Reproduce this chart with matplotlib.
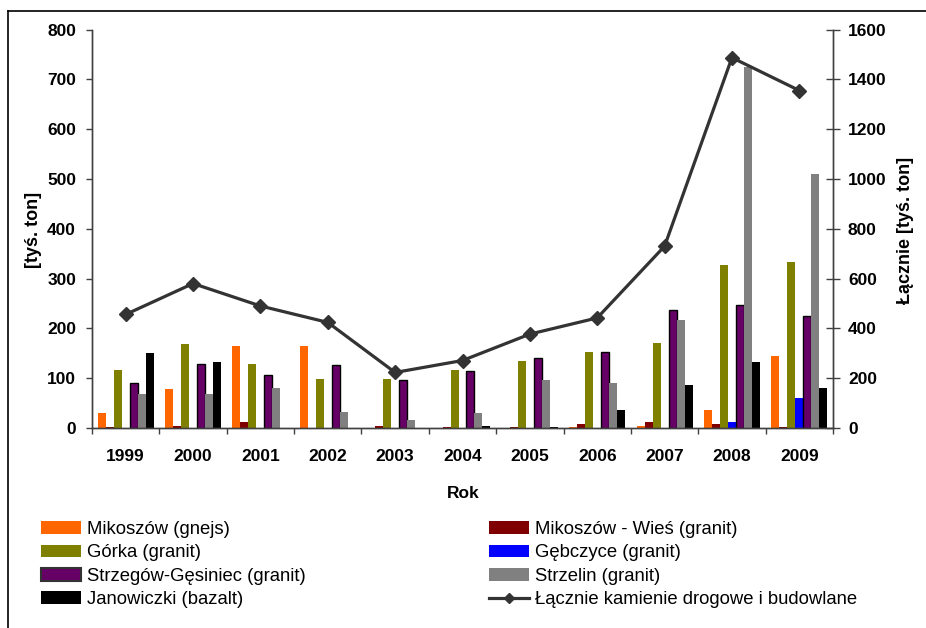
import matplotlib.pyplot as plt
import numpy as np
from matplotlib.lines import Line2D
from matplotlib.patches import Patch

plt.rcParams['font.family'] = ['Liberation Sans', 'DejaVu Sans']

years = ['1999', '2000', '2001', '2002', '2003', '2004', '2005', '2006', '2007', '2008', '2009']

mikoszow_gnejs = [30, 78, 164, 164, 0, 0, 0, 3, 5, 36, 144]
mikoszow_wies = [3, 5, 12, 0, 5, 3, 3, 9, 13, 9, 3]
gorka = [116, 168, 128, 98, 98, 116, 134, 152, 170, 327, 333]
gebczyce = [0, 0, 0, 0, 0, 0, 0, 0, 0, 12, 60]
strzegow = [90, 128, 107, 126, 96, 114, 140, 152, 236, 246, 224]
strzelin = [68, 68, 80, 32, 17, 30, 96, 90, 216, 725, 510]
janowiczki = [150, 132, 0, 0, 0, 5, 3, 36, 86, 132, 80]
lacznie = [456, 580, 490, 424, 223, 271, 377, 442, 730, 1487, 1355]

series = [
    ('Mikoszów (gnejs)', mikoszow_gnejs, '#FF6600'),
    ('Mikoszów - Wieś (granit)', mikoszow_wies, '#800000'),
    ('Górka (granit)', gorka, '#808000'),
    ('Gębczyce (granit)', gebczyce, '#0000FF'),
    ('Strzegów-Gęsiniec (granit)', strzegow, '#660066'),
    ('Strzelin (granit)', strzelin, '#808080'),
    ('Janowiczki (bazalt)', janowiczki, '#000000'),
]

fig = plt.figure(figsize=(9.26, 6.28), dpi=100)
ax = fig.add_axes([92/926, 1-428/628, (833-92)/926, (428-29.5)/628])
ax2 = ax.twinx()

x = np.arange(len(years))
w = 0.1185
handles = {}
for i, (name, vals, col) in enumerate(series):
    if name.startswith('Strzeg'):
        ax.bar(x + (i-3)*w, vals, w, color=col, edgecolor='black', linewidth=1.0)
        handles[name] = Patch(facecolor=col, edgecolor='#333333', linewidth=1.5)
    else:
        ax.bar(x + (i-3)*w, vals, w, color=col, linewidth=0)
        handles[name] = Patch(facecolor=col, linewidth=0)

ax2.plot(x, lacznie, color='#333333', lw=2.3, marker='D', markersize=7)
line_h = Line2D([], [], color='#333333', lw=2.3, marker='D', markersize=5)

ax.set_xlim(-0.5, 10.5)
ax.set_ylim(0, 800)
ax2.set_ylim(0, 1600)
ax.set_yticks(np.arange(0, 801, 100))
ax2.set_yticks(np.arange(0, 1601, 200))

ax.set_xticks(np.arange(-0.5, 11, 1))
ax.set_xticklabels([])
ax.set_xticks(x, minor=True)
ax.set_xticklabels(years, minor=True, fontweight='bold', fontsize=12.5)
ax.tick_params(axis='x', which='major', direction='out', length=4.5, width=1, color='#404040')
ax.tick_params(axis='x', which='minor', length=0, pad=15)
ax.tick_params(axis='y', direction='out', length=4.5, width=1, color='#404040', pad=7)
ax2.tick_params(axis='y', direction='inout', length=9.5, width=1, color='#404040', pad=6)
for lbl in ax.get_yticklabels() + ax2.get_yticklabels():
    lbl.set_fontweight('bold')
    lbl.set_fontsize(12.5)

for a in (ax, ax2):
    a.spines['top'].set_visible(False)
    for s in ('left', 'right', 'bottom'):
        a.spines[s].set_color('#404040')
        a.spines[s].set_linewidth(1)

fig.text(34/926, 1-230/628, '[tyś. ton]', rotation=90, ha='center', va='center',
         fontweight='bold', fontsize=13)
fig.text(906/926, 1-230/628, 'Łącznie [tyś. ton]', rotation=90, ha='center', va='center',
         fontweight='bold', fontsize=13)
fig.text(463/926, 1-493/628, 'Rok', ha='center', va='center', fontweight='bold', fontsize=12.5)

names = [s[0] for s in series]
col1 = [names[0], names[2], names[4], names[6]]
col2 = [names[1], names[3], names[5]]
leg_kw = dict(frameon=False, fontsize=13.3, handlelength=2.15, handleheight=0.7,
              handletextpad=0.32, labelspacing=0.35, borderpad=0, borderaxespad=0)
fig.legend([handles[n] for n in col1], col1, loc='upper left',
           bbox_to_anchor=(41/926, 1-521/628), **leg_kw)
fig.legend([handles[n] for n in col2] + [line_h], col2 + ['Łącznie kamienie drogowe i budowlane'],
           loc='upper left', bbox_to_anchor=(489/926, 1-521/628), **leg_kw)

fig.add_artist(Line2D([8/926, 8/926], [0, 1-11/628], color='black', lw=1.2))
fig.add_artist(Line2D([8/926, 1], [1-11/628, 1-11/628], color='black', lw=1.2))

fig.savefig('out.png', dpi=100)
